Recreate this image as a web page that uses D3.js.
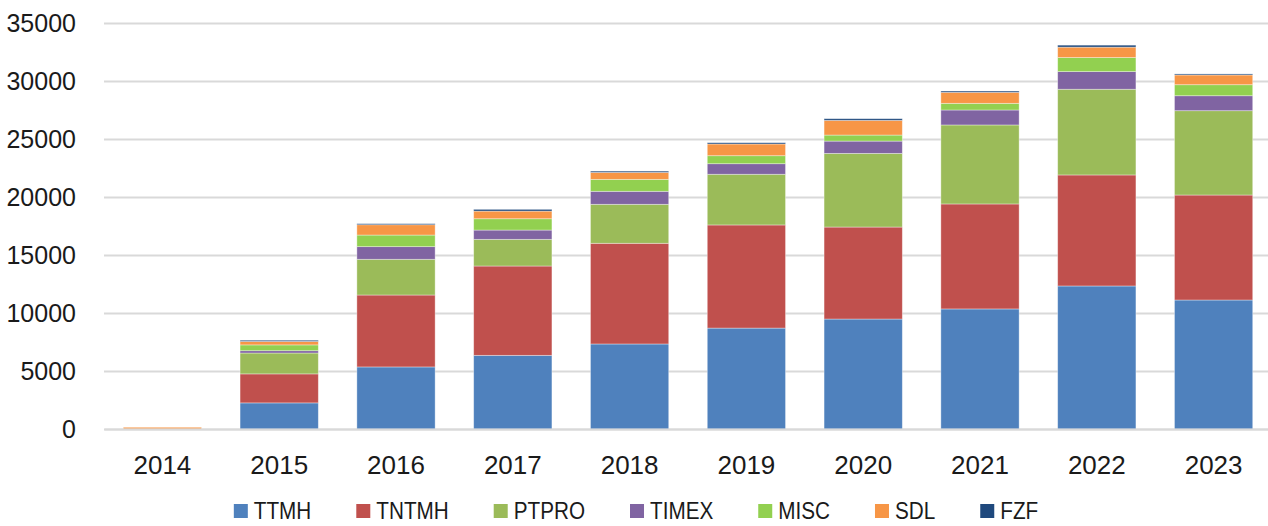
<!DOCTYPE html>
<html>
<head>
<meta charset="utf-8">
<script src="https://cdn.jsdelivr.net/npm/d3@7"></script>
<style>
  body { margin: 0; background: #fff; }
  svg { display: block; }
</style>
</head>
<body>
<svg id="chart" width="1268" height="526"></svg>
<script>
// data
var years = ["2014", "2015", "2016", "2017", "2018", "2019", "2020", "2021", "2022", "2023"];
var seriesNames = ["TTMH", "TNTMH", "PTPRO", "TIMEX", "MISC", "SDL", "FZF"];
var seriesColors = ["#4F81BD", "#C0504D", "#9BBB59", "#8064A2", "#92D050", "#F79646", "#1F497D"];
var ttmh  = [0, 2250, 5350, 6350, 7330, 8700, 9480, 10350, 12330, 11120];
var tntmh = [0, 2500, 6200, 7700, 8680, 8890, 7930, 9050, 9570, 9050];
var ptpro = [0, 1800, 3080, 2300, 3360, 4370, 6350, 6810, 7390, 7270];
var timex = [0, 200, 1090, 800, 1120, 910, 1060, 1290, 1520, 1290];
var misc  = [0, 500, 1000, 975, 1030, 690, 520, 575, 1210, 950];
var sdl   = [150, 300, 890, 660, 600, 1010, 1270, 950, 900, 840];
var fzf   = [0, 100, 90, 150, 110, 110, 140, 110, 170, 90];
var yTicks = [0, 5000, 10000, 15000, 20000, 25000, 30000, 35000];

var seriesValues = [ttmh, tntmh, ptpro, timex, misc, sdl, fzf];

var svg = d3.select("#chart");
var plotLeft = 104, plotRight = 1272, plotTop = 23, plotBottom = 429;
var fontAxis = "'Liberation Sans', Arial, sans-serif";

var rows = years.map(function(y, i) {
    var r = { year: y };
    seriesNames.forEach(function(s, k) { r[s] = seriesValues[k][i]; });
    return r;
});

var x = d3.scaleBand().domain(years).range([plotLeft, plotRight])
    .paddingInner(0.33).paddingOuter(0.165);
var y = d3.scaleLinear().domain([0, 35000]).range([plotBottom, plotTop]);
var color = d3.scaleOrdinal().domain(seriesNames).range(seriesColors);

// gridlines
svg.append("g")
    .attr("transform", "translate(" + plotLeft + ",0)")
    .call(d3.axisLeft(y).tickValues(yTicks).tickSize(-(plotRight - plotLeft)).tickFormat(""))
    .call(function(g) {
        g.select(".domain").remove();
        g.selectAll("line").attr("stroke", "#D9D9D9").attr("stroke-width", 2);
    });

// y labels
svg.append("g")
    .attr("transform", "translate(" + plotLeft + ",0)")
    .call(d3.axisLeft(y).tickValues(yTicks).tickSize(0).tickPadding(28).tickFormat(d3.format("d")))
    .call(function(g) {
        g.select(".domain").remove();
        g.selectAll("text")
            .attr("font-family", fontAxis)
            .attr("font-size", "25px")
            .attr("fill", "#1a1a1a");
    });

var stack = d3.stack().keys(seriesNames);
var layers = stack(rows);

svg.append("g").selectAll("g")
    .data(layers)
    .enter().append("g")
    .attr("fill", function(d) { return color(d.key); })
    .selectAll("rect")
    .data(function(d) { return d; })
    .enter().append("rect")
    .attr("x", function(d) { return x(d.data.year); })
    .attr("width", x.bandwidth())
    .attr("y", function(d) { return y(d[1]); })
    .attr("height", function(d) { return y(d[0]) - y(d[1]); })
    .attr("stroke", "rgba(255,255,255,0.45)")
    .attr("stroke-width", 0.8);

// x axis
svg.append("g")
    .attr("transform", "translate(0," + plotBottom + ")")
    .call(d3.axisBottom(x).tickSize(0).tickPadding(27))
    .call(function(g) {
        g.select(".domain").attr("stroke", "#D9D9D9").attr("stroke-width", 2);
        g.selectAll("text")
            .attr("font-family", fontAxis)
            .attr("font-size", "26px")
            .attr("fill", "#1a1a1a");
    });

// legend (text squeezed to look like the narrow face in the original)
var squeeze = 0.9;
var legend = svg.append("g");
var items = legend.selectAll("g")
    .data(seriesNames)
    .enter().append("g");
items.append("rect")
    .attr("width", 14).attr("height", 14)
    .attr("y", -7)
    .attr("fill", function(d) { return color(d); });
items.append("text")
    .attr("transform", "translate(20,0) scale(" + squeeze + ",1)")
    .attr("dy", "0.36em")
    .attr("font-family", fontAxis)
    .attr("font-size", "23px")
    .attr("fill", "#1a1a1a")
    .text(function(d) { return d; });

var gap = 45, xpos = 0;
items.each(function() {
    var w = 20 + squeeze * this.querySelector("text").getComputedTextLength();
    d3.select(this).attr("transform", "translate(" + xpos + ",0)");
    xpos += w + gap;
});
var total = xpos - gap;
legend.attr("transform", "translate(" + (636 - total / 2) + ",511)");
</script>
</body>
</html>
